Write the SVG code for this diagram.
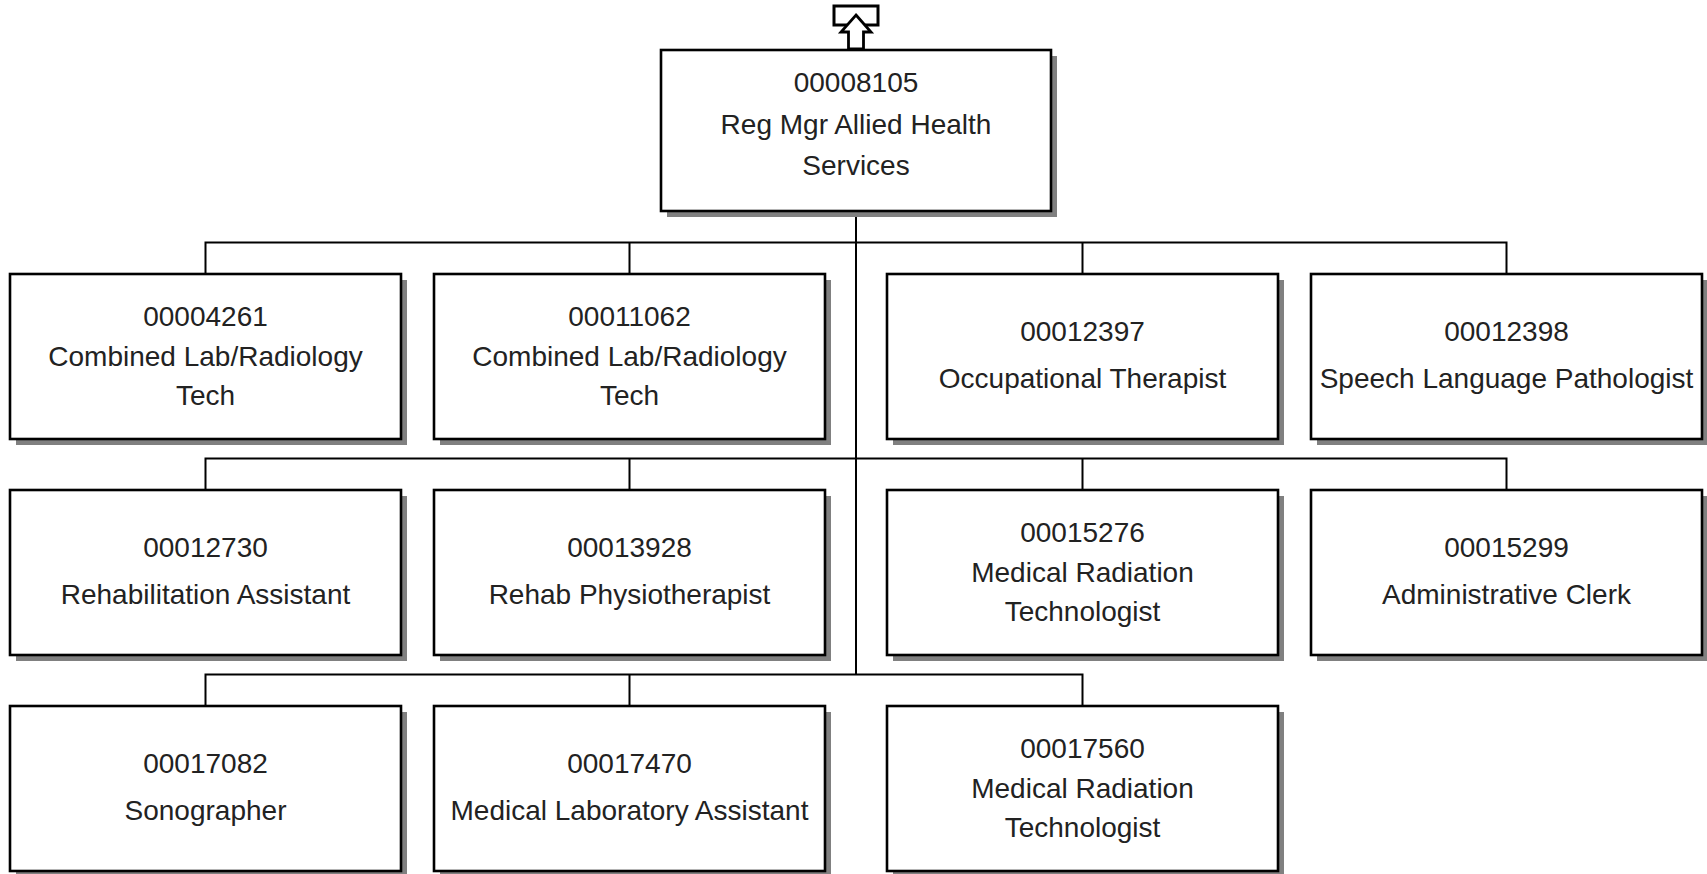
<svg xmlns="http://www.w3.org/2000/svg" width="1707" height="874" viewBox="0 0 1707 874">
<style>
.sh{fill:#808080;stroke:none}
.bx{fill:#fff;stroke:#000;stroke-width:2.6}
.t{font-family:"Liberation Sans",Arial,sans-serif;font-size:28px;fill:#222;text-anchor:middle}
.c{fill:none;stroke:#000;stroke-width:2}
</style>
<rect width="1707" height="874" fill="#fff"/>
<g id="connectors">
<path class="c" d="M856 211V674.5"/>
<path class="c" d="M205.5 274V242.5H1506.5V274M629.5 242.5V274M1082.5 242.5V274"/>
<path class="c" d="M205.5 490V458.5H1506.5V490M629.5 458.5V490M1082.5 458.5V490"/>
<path class="c" d="M205.5 706V674.5H1082.5V706M629.5 674.5V706"/>
</g>
<g id="up-icon">
<rect x="834" y="6" width="44" height="19" fill="#fff" stroke="#000" stroke-width="3"/>
<polygon points="856,15 871,32 863.5,32 863.5,49 848.5,49 848.5,32 841,32" fill="#fff" stroke="#000" stroke-width="2.8" stroke-linejoin="miter"/>
</g>
<g id="n00008105">
<rect class="sh" x="667" y="56" width="390" height="161"/>
<rect class="bx" x="661" y="50" width="390" height="161"/>
<text class="t" x="856" y="92">00008105</text>
<text class="t" x="856" y="134">Reg Mgr Allied Health</text>
<text class="t" x="856" y="175">Services</text>
</g>
<g id="n00004261">
<rect class="sh" x="16" y="280" width="391" height="165"/>
<rect class="bx" x="10" y="274" width="391" height="165"/>
<text class="t" x="205.5" y="326">00004261</text>
<text class="t" x="205.5" y="366">Combined Lab/Radiology</text>
<text class="t" x="205.5" y="405">Tech</text>
</g>
<g id="n00011062">
<rect class="sh" x="440" y="280" width="391" height="165"/>
<rect class="bx" x="434" y="274" width="391" height="165"/>
<text class="t" x="629.5" y="326">00011062</text>
<text class="t" x="629.5" y="366">Combined Lab/Radiology</text>
<text class="t" x="629.5" y="405">Tech</text>
</g>
<g id="n00012397">
<rect class="sh" x="893" y="280" width="391" height="165"/>
<rect class="bx" x="887" y="274" width="391" height="165"/>
<text class="t" x="1082.5" y="341">00012397</text>
<text class="t" x="1082.5" y="388">Occupational Therapist</text>
</g>
<g id="n00012398">
<rect class="sh" x="1317" y="280" width="391" height="165"/>
<rect class="bx" x="1311" y="274" width="391" height="165"/>
<text class="t" x="1506.5" y="341">00012398</text>
<text class="t" x="1506.5" y="388">Speech Language Pathologist</text>
</g>
<g id="n00012730">
<rect class="sh" x="16" y="496" width="391" height="165"/>
<rect class="bx" x="10" y="490" width="391" height="165"/>
<text class="t" x="205.5" y="557">00012730</text>
<text class="t" x="205.5" y="604">Rehabilitation Assistant</text>
</g>
<g id="n00013928">
<rect class="sh" x="440" y="496" width="391" height="165"/>
<rect class="bx" x="434" y="490" width="391" height="165"/>
<text class="t" x="629.5" y="557">00013928</text>
<text class="t" x="629.5" y="604">Rehab Physiotherapist</text>
</g>
<g id="n00015276">
<rect class="sh" x="893" y="496" width="391" height="165"/>
<rect class="bx" x="887" y="490" width="391" height="165"/>
<text class="t" x="1082.5" y="542">00015276</text>
<text class="t" x="1082.5" y="582">Medical Radiation</text>
<text class="t" x="1082.5" y="621">Technologist</text>
</g>
<g id="n00015299">
<rect class="sh" x="1317" y="496" width="391" height="165"/>
<rect class="bx" x="1311" y="490" width="391" height="165"/>
<text class="t" x="1506.5" y="557">00015299</text>
<text class="t" x="1506.5" y="604">Administrative Clerk</text>
</g>
<g id="n00017082">
<rect class="sh" x="16" y="712" width="391" height="165"/>
<rect class="bx" x="10" y="706" width="391" height="165"/>
<text class="t" x="205.5" y="773">00017082</text>
<text class="t" x="205.5" y="820">Sonographer</text>
</g>
<g id="n00017470">
<rect class="sh" x="440" y="712" width="391" height="165"/>
<rect class="bx" x="434" y="706" width="391" height="165"/>
<text class="t" x="629.5" y="773">00017470</text>
<text class="t" x="629.5" y="820">Medical Laboratory Assistant</text>
</g>
<g id="n00017560">
<rect class="sh" x="893" y="712" width="391" height="165"/>
<rect class="bx" x="887" y="706" width="391" height="165"/>
<text class="t" x="1082.5" y="758">00017560</text>
<text class="t" x="1082.5" y="798">Medical Radiation</text>
<text class="t" x="1082.5" y="837">Technologist</text>
</g>
</svg>
